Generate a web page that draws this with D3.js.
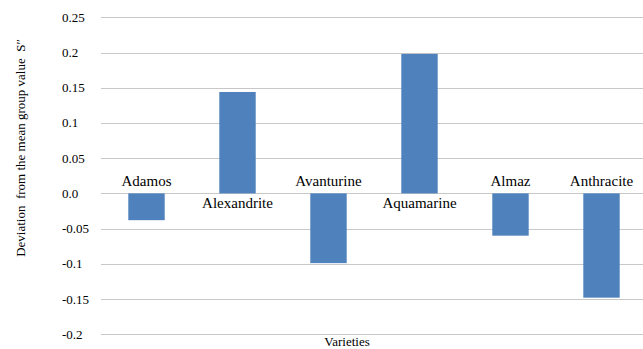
<!DOCTYPE html>
<html><head><meta charset="utf-8">
<script src="https://cdn.jsdelivr.net/npm/d3@7"></script>
<style>body{margin:0;background:#fff}svg{display:block}</style>
</head><body><svg id="c" width="643" height="349"></svg>
<script>
const categories = ["Adamos","Alexandrite","Avanturine","Aquamarine","Almaz","Anthracite"];
const values = [-0.038, 0.144, -0.099, 0.198, -0.06, -0.148];
const tickValues = [0.25,0.2,0.15,0.1,0.05,0,-0.05,-0.1,-0.15,-0.2];
const tickLabels = ["0.25","0.2","0.15","0.1","0.05","0.0","-0.05","-0.1","-0.15","-0.2"];

const FONT = "'Liberation Serif', Tinos, 'Times New Roman', Times, 'DejaVu Serif', serif";
const svg = d3.select("#c").attr("font-family", FONT);
const y = d3.scaleLinear().domain([-0.2,0.25]).range([334.3,17.3]);
const x = d3.scaleBand().domain(categories).range([101,647]).paddingInner(0.6).paddingOuter(0.3);

// gridlines
svg.append("g").selectAll("line").data(tickValues).join("line")
  .attr("x1",101).attr("x2",643)
  .attr("y1",d=>Math.round(y(d))+0.5).attr("y2",d=>Math.round(y(d))+0.5)
  .attr("stroke","#c8c8c8").attr("stroke-width",1);

// tick labels
svg.append("g").selectAll("text").data(tickValues).join("text")
  .attr("x",62).attr("y",d=>y(d)+4.5)
  .attr("font-family",FONT).attr("font-size","13px")
  .text((d,i)=>tickLabels[i]);

// bars
svg.append("g").selectAll("rect").data(values).join("rect")
  .attr("x",(d,i)=>x(categories[i]))
  .attr("width",x.bandwidth())
  .attr("y",d=>y(Math.max(0,d)))
  .attr("height",d=>Math.abs(y(d)-y(0)))
  .attr("fill","#4f81bd");

// category labels
svg.append("g").selectAll("text").data(values).join("text")
  .attr("x",(d,i)=>x(categories[i])+x.bandwidth()/2)
  .attr("y",d=> d<0 ? y(0)-7 : y(0)+14.5)
  .attr("text-anchor","middle")
  .attr("font-family",FONT).attr("font-size","15px")
  .text((d,i)=>categories[i]);

// axis titles
svg.append("text").attr("x",347).attr("y",346).attr("text-anchor","middle")
  .attr("font-family",FONT).attr("font-size","13px").text("Varieties");
svg.append("text").attr("transform","translate(25,148) rotate(-90)")
  .attr("text-anchor","middle").attr("font-family",FONT).attr("font-size","13px")
  .style("white-space","pre")
  .text("Deviation  from the mean group value  S\u2033");
</script></body></html>
